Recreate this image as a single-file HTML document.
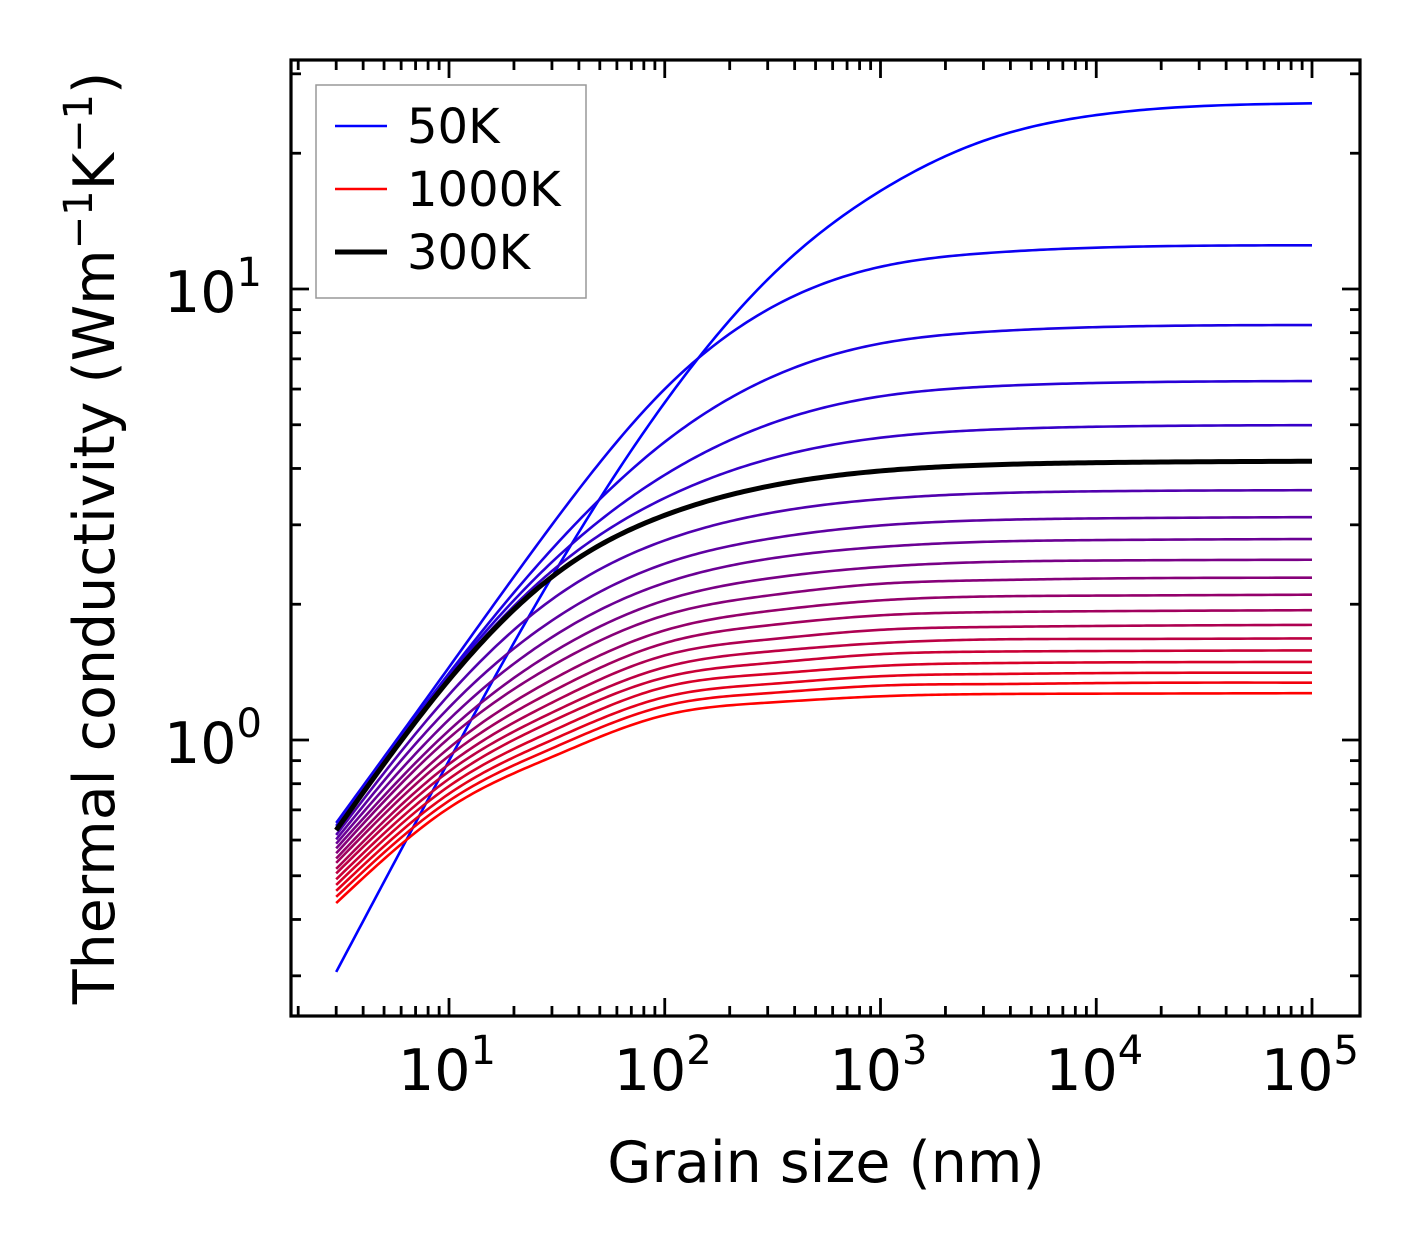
<!DOCTYPE html>
<html><head><meta charset="utf-8"><style>
html,body{margin:0;padding:0;background:#fff}
svg{display:block}
text{font-family:"DejaVu Sans","Liberation Sans",sans-serif;fill:#000}
</style></head><body>
<svg id="chart" width="1421" height="1254" viewBox="0 0 1421 1254" xmlns="http://www.w3.org/2000/svg">
<rect width="1421" height="1254" fill="#fff"/>
<g id="curves"></g>
<g id="axes"></g>
<g id="legend">
<rect x="316" y="85" width="270" height="213" fill="#fff" fill-opacity="0.8" stroke="#999" stroke-width="1.5"/>
<line x1="335" y1="126" x2="387" y2="126" stroke="#0000ff" stroke-width="2.4"/>
<text x="407" y="143" font-size="48">50K</text>
<line x1="335" y1="189" x2="387" y2="189" stroke="#ff0000" stroke-width="2.4"/>
<text x="407" y="206" font-size="48">1000K</text>
<line x1="335" y1="252" x2="387" y2="252" stroke="#000" stroke-width="5"/>
<text x="407" y="269" font-size="48">300K</text>
</g>
<text x="826" y="1182" font-size="57" text-anchor="middle">Grain size (nm)</text>
<text transform="translate(114,538) rotate(-90)" font-size="57" text-anchor="middle">Thermal conductivity (Wm<tspan dy="-22" font-size="40">−1</tspan><tspan dy="22">K</tspan><tspan dy="-22" font-size="40">−1</tspan><tspan dy="22">)</tspan></text>
</svg>
<script>
const grainSizes = [3, 10, 30, 100, 300, 1000, 3000, 10000, 100000];
const temperatures = [50,100,150,200,250,300,350,400,450,500,550,600,650,700,750,800,850,900,950,1000];
const kappa50 = [0.306,0.90,2.3,5.6,10.5,16.5,21.3,24.3,25.8];
const kappa100 = [0.655,1.45,3.0,6.0,9.0,11.2,12.0,12.35,12.5];
const kappa150 = [0.645,1.406,2.65,4.58,6.32,7.57,8.03,8.23,8.32];
const kappa200 = [0.638,1.39,2.48,3.87,5.0,5.78,6.07,6.19,6.25];
const kappa250 = [0.634,1.37,2.37,3.44,4.19,4.68,4.87,4.95,4.99];
const kappa300 = [0.631,1.36,2.30,3.15,3.65,3.95,4.07,4.12,4.15];
const kappa350 = [0.616,1.26,2.05,2.77,3.18,3.42,3.52,3.56,3.58];
const kappa400 = [0.602,1.18,1.84,2.46,2.79,2.99,3.07,3.10,3.12];
const kappa450 = [0.589,1.11,1.69,2.23,2.52,2.68,2.75,2.775,2.79];
const kappa500 = [0.575,1.05,1.56,2.04,2.28,2.42,2.48,2.50,2.51];
const kappa550 = [0.561,1.01,1.46,1.89,2.09,2.22,2.26,2.28,2.29];
const kappa600 = [0.546,0.960,1.36,1.75,1.93,2.04,2.08,2.09,2.10];
const kappa650 = [0.534,0.922,1.28,1.64,1.795,1.89,1.92,1.93,1.94];
const kappa700 = [0.518,0.884,1.21,1.54,1.67,1.755,1.78,1.79,1.80];
const kappa750 = [0.506,0.852,1.15,1.45,1.57,1.64,1.67,1.675,1.68];
const kappa800 = [0.491,0.820,1.10,1.376,1.48,1.55,1.57,1.575,1.58];
const kappa850 = [0.477,0.790,1.046,1.31,1.40,1.46,1.48,1.486,1.49];
const kappa900 = [0.463,0.760,1.00,1.245,1.33,1.385,1.40,1.407,1.41];
const kappa950 = [0.449,0.733,0.958,1.19,1.27,1.32,1.33,1.337,1.34];
const kappa1000 = [0.435,0.707,0.917,1.135,1.21,1.25,1.264,1.267,1.27];
const highlight300 = [0.631,1.36,2.30,3.15,3.65,3.95,4.07,4.12,4.15];
const xTickLabels = ["1","2","3","4","5"];
const yTickLabels = ["0","1"];

const allSeries = [kappa50,kappa100,kappa150,kappa200,kappa250,kappa300,kappa350,kappa400,kappa450,kappa500,kappa550,kappa600,kappa650,kappa700,kappa750,kappa800,kappa850,kappa900,kappa950,kappa1000];

const X0=291, X1=1360, Y0=60, Y1=1016;
function xs(v){ return 449 + 215.75*(Math.log10(v)-1); }
function ys(v){ return 740 - 451*Math.log10(v); }
const NS="http://www.w3.org/2000/svg";

// natural cubic spline through data points (pixel space), sampled densely
function pathFor(arr){
  const X = grainSizes.map(d=>xs(d));
  const Y = arr.map(v=>ys(v));
  const n = X.length;
  const h=[]; for(let i=0;i<n-1;i++) h.push(X[i+1]-X[i]);
  const a=new Array(n).fill(0), b=new Array(n).fill(1), c=new Array(n).fill(0), r=new Array(n).fill(0);
  for(let i=1;i<n-1;i++){
    a[i]=h[i-1]; b[i]=2*(h[i-1]+h[i]); c[i]=h[i];
    r[i]=6*((Y[i+1]-Y[i])/h[i]-(Y[i]-Y[i-1])/h[i-1]);
  }
  // Thomas algorithm
  const cp=new Array(n).fill(0), rp=new Array(n).fill(0);
  cp[0]=c[0]/b[0]; rp[0]=r[0]/b[0];
  for(let i=1;i<n;i++){
    const den=b[i]-a[i]*cp[i-1];
    cp[i]=c[i]/den; rp[i]=(r[i]-a[i]*rp[i-1])/den;
  }
  const M=new Array(n).fill(0);
  M[n-1]=rp[n-1];
  for(let i=n-2;i>=0;i--) M[i]=rp[i]-cp[i]*M[i+1];
  let s="M"+X[0].toFixed(2)+","+Y[0].toFixed(2);
  for(let i=0;i<n-1;i++){
    const steps=30;
    for(let k=1;k<=steps;k++){
      const x=X[i]+h[i]*k/steps;
      const A=(X[i+1]-x)/h[i], B=(x-X[i])/h[i];
      const y=A*Y[i]+B*Y[i+1]+((A*A*A-A)*M[i]+(B*B*B-B)*M[i+1])*h[i]*h[i]/6;
      s+=" L"+x.toFixed(2)+","+y.toFixed(2);
    }
  }
  return s;
}

const gC=document.getElementById('curves');
allSeries.forEach((arr,j)=>{
  const rr=Math.round(255*j/19), bb=255-rr;
  const el=document.createElementNS(NS,'path');
  el.setAttribute('d',pathFor(arr));
  el.setAttribute('fill','none');
  el.setAttribute('stroke','rgb('+rr+',0,'+bb+')');
  el.setAttribute('stroke-width','2.6');
  el.setAttribute('stroke-linejoin','round');
  
  
  gC.appendChild(el);
});
{
  const el=document.createElementNS(NS,'path');
  el.setAttribute('d',pathFor(highlight300));
  el.setAttribute('fill','none');
  el.setAttribute('stroke','#000');
  el.setAttribute('stroke-width','5');
  el.setAttribute('stroke-linejoin','round');
  
  
  gC.appendChild(el);
}

const gA=document.getElementById('axes');
function line(x1,y1,x2,y2,w,name){
  const l=document.createElementNS(NS,'line');
  l.setAttribute('x1',x1);l.setAttribute('y1',y1);l.setAttribute('x2',x2);l.setAttribute('y2',y2);
  l.setAttribute('stroke','#000');l.setAttribute('stroke-width',w);
  
  
  gA.appendChild(l);
}
for(let e=0;e<=5;e++){
  for(let m=1;m<10;m++){
    const v=m*Math.pow(10,e);
    const x=xs(v);
    if(x<X0+1||x>X1-1) continue;
    const L=(m===1)?18:10;
    line(x,Y1,x,Y1-L,2.8,m===1?'x-major-tick':'x-minor-tick');
    line(x,Y0,x,Y0+L,2.8,m===1?'x-major-tick-top':'x-minor-tick-top');
  }
}
for(let e=-1;e<=1;e++){
  for(let m=1;m<10;m++){
    const v=m*Math.pow(10,e);
    const y=ys(v);
    if(y<Y0+1||y>Y1-1) continue;
    const L=(m===1)?18:10;
    line(X0,y,X0+L,y,2.8,m===1?'y-major-tick':'y-minor-tick');
    line(X1,y,X1-L,y,2.8,m===1?'y-major-tick-right':'y-minor-tick-right');
  }
}
const fr=document.createElementNS(NS,'rect');
fr.setAttribute('x',X0);fr.setAttribute('y',Y0);fr.setAttribute('width',X1-X0);fr.setAttribute('height',Y1-Y0);
fr.setAttribute('fill','none');fr.setAttribute('stroke','#000');fr.setAttribute('stroke-width','3.2');


gA.appendChild(fr);
xTickLabels.forEach(lab=>{
  const x=xs(Math.pow(10,+lab));
  const t=document.createElementNS(NS,'text');
  t.setAttribute('x',x-2);t.setAttribute('y',1090);t.setAttribute('font-size','57');t.setAttribute('text-anchor','middle');
  t.innerHTML='10<tspan dy="-26" font-size="40">'+lab+'</tspan>';
  
  
  gA.appendChild(t);
});
yTickLabels.forEach(lab=>{
  const y=ys(Math.pow(10,+lab));
  const t=document.createElementNS(NS,'text');
  t.setAttribute('x',262);t.setAttribute('y',y+23);t.setAttribute('font-size','57');t.setAttribute('text-anchor','end');
  t.innerHTML='10<tspan dy="-26" font-size="40">'+lab+'</tspan>';
  
  
  gA.appendChild(t);
});
</script>
</body></html>
